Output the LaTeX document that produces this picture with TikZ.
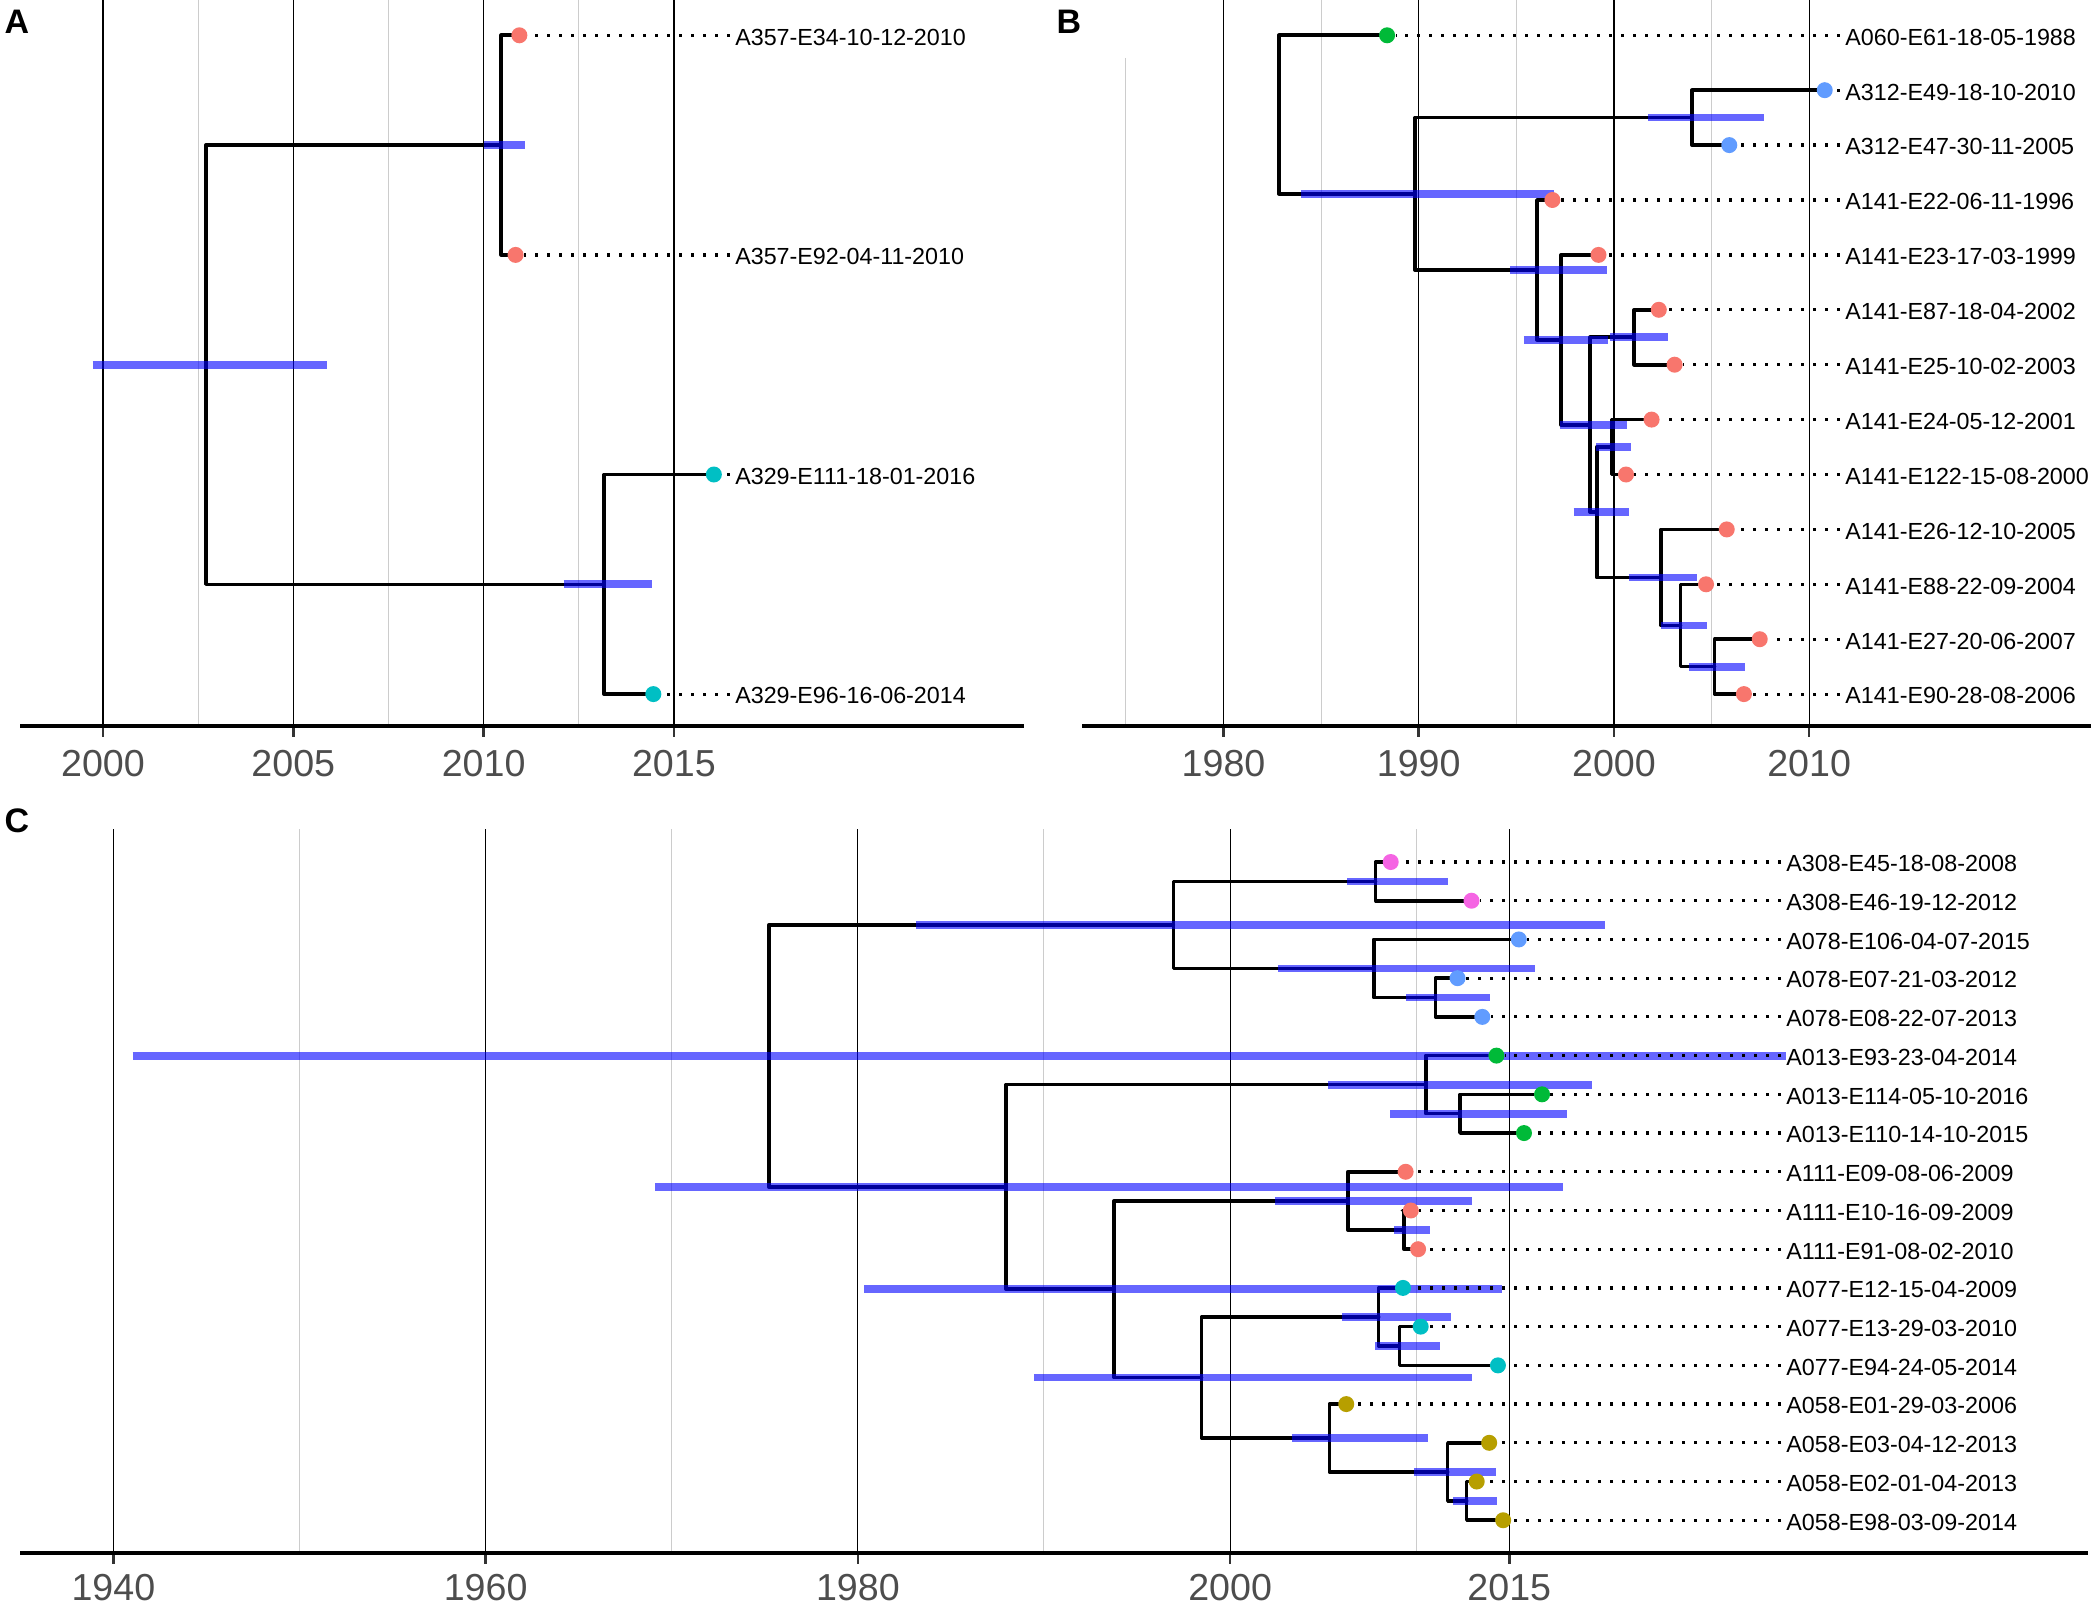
\documentclass[tikz,border=0pt]{standalone}
\usepackage{fontspec}
\setmainfont{Liberation Sans}
\usetikzlibrary{calc}

\pgfdeclarelayer{back}
\pgfsetlayers{back,main}

\definecolor{hueRed}{HTML}{F8766D}
\definecolor{hueOlive}{HTML}{B79F00}
\definecolor{hueGreen}{HTML}{00BA38}
\definecolor{hueCyan}{HTML}{00BFC4}
\definecolor{hueBlue}{HTML}{619CFF}
\definecolor{huePink}{HTML}{F564E3}
\definecolor{gridgrey}{HTML}{CCCCCC}
\definecolor{axistext}{HTML}{4D4D4D}
\definecolor{axistick}{HTML}{333333}

\tikzset{
	branch/.style={line width=1.8pt, line join=round, line cap=round},
	hpd/.style={line width=3.85pt, blue, opacity=0.6},
	leader/.style={line width=1.6pt, dash pattern=on 1.6pt off 4.4pt},
	tipdot/.style={circle, fill=#1, inner sep=0pt, minimum size=8pt},
	taxon/.style={anchor=west, inner sep=2.5pt, yshift=-0.9pt, font=\fontsize{11.65}{14}\selectfont},
	yearlab/.style={anchor=base, inner sep=0pt, text=axistext, font=\fontsize{18.8}{22}\selectfont},
	panel/.style={inner sep=0pt, font=\fontsize{17}{20}\selectfont\bfseries},
	majorgrid/.style={line width=0.6pt, black},
	minorgrid/.style={line width=0.5pt, gridgrey},
	axisline/.style={line width=1.6pt},
	axistickline/.style={line width=1.35pt, axistick},
}

\begin{document}
\begin{tikzpicture}[x=0.5pt, y=-0.5pt]
	
	\useasboundingbox (0,0) rectangle (2091,1605);
	
	\begin{pgfonlayer}{back}
	\fill [white] (0,0) rectangle (2091,1605);
	
	\begin{scope}[xshift=51.5pt, x=19.03pt]
	\foreach \yr in {2.5,7.5,12.5}
	\draw [minorgrid] (\yr,0) -- (\yr,726);
	\foreach \yr/\lab in {0/2000,5/2005,10/2010,15/2015} {
	\draw [majorgrid] (\yr,0) -- (\yr,726);
	\draw [axistickline] (\yr,726) -- (\yr,737);
	\node [yearlab] (A-year\lab) at (\yr,776) {\lab};
	}
	\end{scope}
	
	\begin{scope}[xshift=806.95pt, x=9.76pt]
	\draw [minorgrid] (-25,58) -- (-25,726);
	\foreach \yr in {-15,-5,5}
	\draw [minorgrid] (\yr,0) -- (\yr,726);
	\foreach \yr/\lab in {-20/1980,-10/1990,0/2000,10/2010} {
	\draw [majorgrid] (\yr,0) -- (\yr,726);
	\draw [axistickline] (\yr,726) -- (\yr,737);
	\node [yearlab] (B-year\lab) at (\yr,776) {\lab};
	}
	\end{scope}
	
	\begin{scope}[xshift=615.05pt, x=9.306pt]
	\foreach \yr in {-50,-30,-10,10}
	\draw [minorgrid] (\yr,829) -- (\yr,1553);
	\foreach \yr/\lab in {-60/1940,-40/1960,-20/1980,0/2000,15/2015} {
	\draw [majorgrid] (\yr,829) -- (\yr,1553);
	\draw [axistickline] (\yr,1553) -- (\yr,1564);
	\node [yearlab] (C-year\lab) at (\yr,1600) {\lab};
	}
	\end{scope}
	
	\draw [axisline] (20,726) -- (1024,726);
	\draw [axisline] (1082,726) -- (2091,726);
	\draw [axisline] (20,1553) -- (2088,1553);
	\end{pgfonlayer}
	
	\node [panel] (A-tag) at (17,21.5) {A};
	\node [panel] (B-tag) at (1069,21.5) {B};
	\node [panel] (C-tag) at (17,821) {C};
	
	% A
	\begin{scope}[xshift=51.5pt, x=19.03pt, yshift=9.8pt, y=-27.45pt]
	\foreach \n/\yr/\col/\lab in {1/10.94/hueRed/A357-E34-10-12-2010, 5/10.84/hueRed/A357-E92-04-11-2010, 9/16.05/hueCyan/A329-E111-18-01-2016, 13/14.46/hueCyan/A329-E96-16-06-2014} {
	\node [tipdot=\col] (A-t\n) at (\yr,\n) {};
	\node [taxon] (A-l\n) at (16.47,\n) {\lab};
	}
	
	\coordinate (A-n1) at (2.70,7);
	\coordinate (A-n2) at (10.46,3);
	\coordinate (A-n3) at (13.16,11);
	
	\begin{pgfonlayer}{back}
	\foreach \p/\ch in {n1/n2, n1/n3, n2/t1, n2/t5, n3/t9, n3/t13}
	\draw [branch] (A-\p) |- (A-\ch);
	\foreach \r/\a/\b in {7/-0.27/5.88, 3/10.01/11.09, 11/12.10/14.42}
	\draw [hpd] (\a,\r) -- (\b,\r);
	\foreach \n in {1,5,9,13}
	\draw [leader] (A-l\n.west |- A-t\n) -- (A-t\n);
	\end{pgfonlayer}
	\end{scope}
	
	% B
	\begin{scope}[xshift=806.95pt, x=9.76pt, yshift=9.8pt, y=-27.45pt]
	\foreach \yr/\col/\lab [count=\n] in {-11.62/hueGreen/A060-E61-18-05-1988, 10.80/hueBlue/A312-E49-18-10-2010, 5.91/hueBlue/A312-E47-30-11-2005, -3.15/hueRed/A141-E22-06-11-1996, -0.79/hueRed/A141-E23-17-03-1999, 2.30/hueRed/A141-E87-18-04-2002, 3.11/hueRed/A141-E25-10-02-2003, 1.93/hueRed/A141-E24-05-12-2001, 0.62/hueRed/A141-E122-15-08-2000, 5.78/hueRed/A141-E26-12-10-2005, 4.72/hueRed/A141-E88-22-09-2004, 7.47/hueRed/A141-E27-20-06-2007, 6.66/hueRed/A141-E90-28-08-2006} {
	\node [tipdot=\col] (B-t\n) at (\yr,\n) {};
	\node [taxon] (B-l\n) at (11.58,\n) {\lab};
	}
	
	\foreach \n/\yr/\r in {1/-17.16/2.4434, 2/-10.19/3.8867, 3/4.00/2.5, 4/-3.94/5.2734, 5/-2.71/6.5469, 6/-1.22/8.0938, 7/1.03/6.5, 8/-0.88/9.6875, 9/-0.13/8.5, 10/2.41/10.875, 11/3.42/11.75, 12/5.16/12.5}
	\coordinate (B-n\n) at (\yr,\r);
	
	\begin{pgfonlayer}{back}
	\foreach \p/\ch in {n1/t1, n1/n2, n2/n3, n2/n4, n3/t2, n3/t3, n4/t4, n4/n5, n5/t5, n5/n6, n6/n7, n6/n8, n7/t6, n7/t7, n8/n9, n8/n10, n9/t8, n9/t9, n10/t10, n10/n11, n11/t11, n11/n12, n12/t12, n12/t13}
	\draw [branch] (B-\p) |- (B-\ch);
	\foreach \r/\a/\b in {3.8867/-16.03/-3.07, 2.5/1.75/7.69, 5.2734/-5.30/-0.35, 6.5469/-4.61/-0.30, 8.0938/-2.76/0.67, 6.5/-0.20/2.75, 9.6875/-2.06/0.77, 8.5/-0.92/0.87, 10.875/0.75/4.28, 11.75/2.41/4.79, 12.5/3.84/6.74}
	\draw [hpd] (\a,\r) -- (\b,\r);
	\foreach \n in {1,...,13}
	\draw [leader] (B-l\n.west |- B-t\n) -- (B-t\n);
	\end{pgfonlayer}
	\end{scope}
	
	% C
	\begin{scope}[xshift=615.05pt, x=9.306pt, yshift=-411.64pt, y=-19.36pt]
	\foreach \yr/\col/\lab [count=\n] in {8.63/huePink/A308-E45-18-08-2008, 12.97/huePink/A308-E46-19-12-2012, 15.51/hueBlue/A078-E106-04-07-2015, 12.22/hueBlue/A078-E07-21-03-2012, 13.55/hueBlue/A078-E08-22-07-2013, 14.31/hueGreen/A013-E93-23-04-2014, 16.76/hueGreen/A013-E114-05-10-2016, 15.79/hueGreen/A013-E110-14-10-2015, 9.43/hueRed/A111-E09-08-06-2009, 9.71/hueRed/A111-E10-16-09-2009, 10.10/hueRed/A111-E91-08-02-2010, 9.29/hueCyan/A077-E12-15-04-2009, 10.24/hueCyan/A077-E13-29-03-2010, 14.39/hueCyan/A077-E94-24-05-2014, 6.24/hueOlive/A058-E01-29-03-2006, 13.92/hueOlive/A058-E03-04-12-2013, 13.25/hueOlive/A058-E02-01-04-2013, 14.67/hueOlive/A058-E98-03-09-2014} {
	\node [tipdot=\col] (C-t\n) at (\yr,\n) {};
	\node [taxon] (C-l\n) at (29.60,\n) {\lab};
	}
	
	\foreach \n/\yr/\r in {1/-24.79/6.0078, 2/-3.05/2.625, 3/7.82/1.5, 4/7.72/3.75, 5/11.03/4.5, 6/-12.04/9.3906, 7/10.51/6.75, 8/12.35/7.5, 9/-6.24/12.0313, 10/6.32/9.75, 11/9.34/10.5, 12/-1.53/14.3125, 13/7.98/12.75, 14/9.09/13.5, 15/5.33/15.875, 16/11.69/16.75, 17/12.71/17.5}
	\coordinate (C-n\n) at (\yr,\r);
	
	\begin{pgfonlayer}{back}
	\foreach \p/\ch in {n1/n2, n1/n6, n2/n3, n2/n4, n3/t1, n3/t2, n4/t3, n4/n5, n5/t4, n5/t5, n6/n7, n6/n9, n7/t6, n7/n8, n8/t7, n8/t8, n9/n10, n9/n12, n10/t9, n10/n11, n11/t10, n11/t11, n12/n13, n12/n15, n13/t12, n13/n14, n14/t13, n14/t14, n15/t15, n15/n16, n16/t16, n16/n17, n17/t17, n17/t18}
	\draw [branch] (C-\p) |- (C-\ch);
	\foreach \r/\a/\b in {6.0078/-58.97/29.85, 2.625/-16.88/20.14, 1.5/6.28/11.69, 3.75/2.57/16.37, 4.5/9.47/13.95, 9.3906/-30.89/17.89, 6.75/5.28/19.44, 7.5/8.59/18.10, 12.0313/-19.67/14.59, 9.75/2.41/12.99, 10.5/8.82/10.74, 14.3125/-10.54/12.99, 12.75/6.03/11.87, 13.5/7.80/11.28, 15.875/3.31/10.62, 16.75/9.90/14.29, 17.5/11.99/14.34}
	\draw [hpd] (\a,\r) -- (\b,\r);
	\foreach \n in {1,...,18}
	\draw [leader] (C-l\n.west |- C-t\n) -- (C-t\n);
	\end{pgfonlayer}
	\end{scope}
	
\end{tikzpicture}
\end{document}
